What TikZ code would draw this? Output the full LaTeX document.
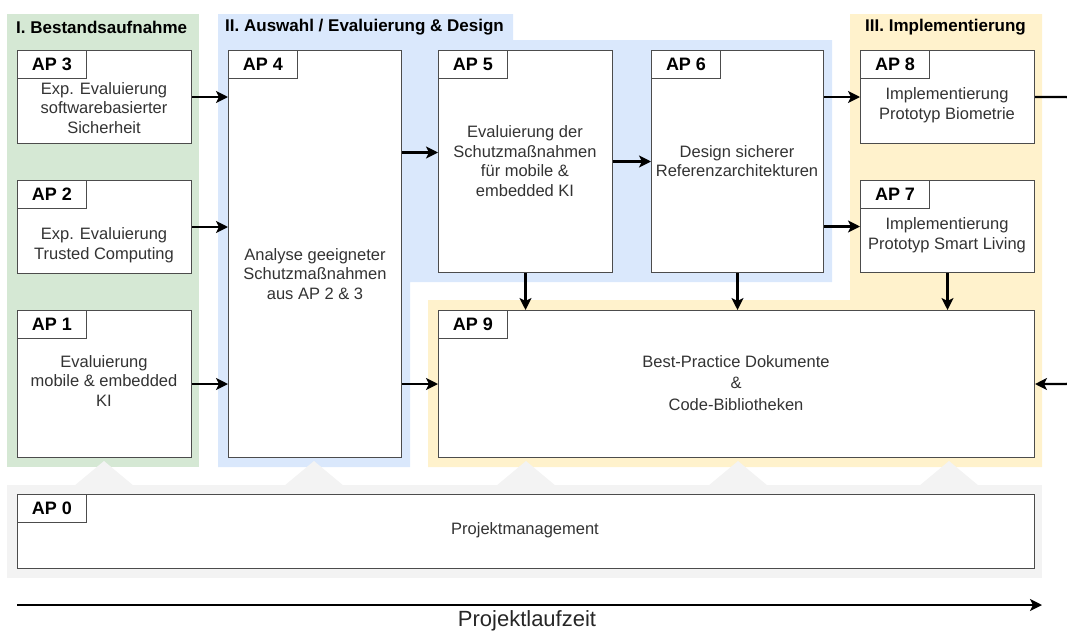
\documentclass[tikz,border=0pt]{standalone}
\usepackage{fontspec}
\setmainfont{Liberation Sans}
\usetikzlibrary{arrows.meta,positioning}
\definecolor{phasegreen}{HTML}{d5e8d4}
\definecolor{phaseblue}{HTML}{dae8fc}
\definecolor{phaseyellow}{HTML}{fff2cc}
\definecolor{mgmtgray}{HTML}{f3f3f3}

\tikzset{
  apbox/.style = {draw = black!70, fill = white, line width = 1pt, anchor = north west, inner sep = 0pt},
  aplabel/.style = {draw = black!70, fill = white, line width = 1pt, anchor = north west, minimum width = 69pt, minimum height = 28pt, inner sep = 0pt, font = \fontsize{18}{20}\selectfont\bfseries},
  aptext/.style = {align = center, text = black!80, font = \fontsize{16.5}{19.5}\selectfont},
  phasetitle/.style = {anchor = west, inner sep = 0pt, font = \fontsize{17}{20}\selectfont\bfseries},
  flow/.style = {-{Stealth[length = 12pt, width = 12pt, inset = 3pt]}, line width = 2.2pt},
}

\begin{document}
\begin{tikzpicture}[x = 1pt, y = -1pt]
        \clip (0, 0) rectangle (1067, 632);

        % Phases
        \fill [phasegreen] (7, 14) rectangle (199, 467);
        \fill [phaseblue] (218, 14) -- (513, 14) -- (513, 40) -- (832, 40) -- (832, 282) -- (410, 282) -- (410, 467) -- (218, 467) -- cycle;
        \fill [phaseyellow] (850, 14) -- (1042, 14) -- (1042, 467) -- (428, 467) -- (428, 300) -- (850, 300) -- cycle;
        \fill [mgmtgray] (7, 485) rectangle (1042, 578);
        \foreach \tx in {104, 314, 526, 738, 949}
            \fill [mgmtgray] (\tx - 30, 486) -- (\tx, 461) -- (\tx + 30, 486) -- cycle;

        \node [phasetitle] (titlea) at (16, 27) {I. Bestandsaufnahme};
        \node [phasetitle] (titleb) at (225, 27) {II. Auswahl / Evaluierung \& Design};
        \node [phasetitle] (titlec) at (865, 27) {III. Implementierung};

        % Boxes
        \node [apbox, minimum width = 174pt, minimum height = 93pt] (ap3) at (17, 50) {};
        \node [apbox, minimum width = 174pt, minimum height = 93pt] (ap2) at (17, 180) {};
        \node [apbox, minimum width = 174pt, minimum height = 147pt] (ap1) at (17, 310) {};
        \node [apbox, minimum width = 173pt, minimum height = 407pt] (ap4) at (228, 50) {};
        \node [apbox, minimum width = 174pt, minimum height = 222pt] (ap5) at (438, 50) {};
        \node [apbox, minimum width = 172pt, minimum height = 222pt] (ap6) at (651, 50) {};
        \node [apbox, minimum width = 174pt, minimum height = 93pt] (ap8) at (860, 50) {};
        \node [apbox, minimum width = 174pt, minimum height = 92pt] (ap7) at (860, 180) {};
        \node [apbox, minimum width = 596pt, minimum height = 147pt] (ap9) at (438, 310) {};
        \node [apbox, minimum width = 1017pt, minimum height = 74pt] (ap0) at (17, 494) {};

        % Labels
        \node [aplabel] (ap3label) at (ap3.north west) {AP 3};
        \node [aplabel] (ap2label) at (ap2.north west) {AP 2};
        \node [aplabel] (ap1label) at (ap1.north west) {AP 1};
        \node [aplabel] (ap4label) at (ap4.north west) {AP 4};
        \node [aplabel] (ap5label) at (ap5.north west) {AP 5};
        \node [aplabel] (ap6label) at (ap6.north west) {AP 6};
        \node [aplabel] (ap8label) at (ap8.north west) {AP 8};
        \node [aplabel] (ap7label) at (ap7.north west) {AP 7};
        \node [aplabel] (ap9label) at (ap9.north west) {AP 9};
        \node [aplabel] (ap0label) at (ap0.north west) {AP 0};

        % Texts
        \node [aptext] (ap3text) at (104, 108) {Exp. Evaluierung\\softwarebasierter\\Sicherheit};
        \node [aptext] (ap2text) at (104, 245) {Exp. Evaluierung\\Trusted Computing};
        \node [aptext] (ap1text) at (104, 381) {Evaluierung\\mobile \& embedded\\KI};
        \node [aptext] (ap4text) at (315, 274) {Analyse geeigneter\\Schutzmaßnahmen\\aus AP 2 \& 3};
        \node [aptext] (ap5text) at (525, 161) {Evaluierung der\\Schutzmaßnahmen\\für mobile \&\\embedded KI};
        \node [aptext] (ap6text) at (737, 161) {Design sicherer\\Referenzarchitekturen};
        \node [aptext] (ap8text) at (947, 105) {Implementierung\\Prototyp Biometrie};
        \node [aptext] (ap7text) at (947, 235) {Implementierung\\Prototyp Smart Living};
        \node [aptext, text depth = 0pt] (ap9text) at (736, 383) {Best-Practice Dokumente\\[2pt]\&\\[2pt]Code-Bibliotheken};
        \node [aptext] (ap0text) at (525, 530) {Projektmanagement};

        % Lines
        \draw [flow] (ap3.east) -- (ap3.east -| ap4.west);
        \draw [flow] (ap2.east) -- (ap2.east -| ap4.west);
        \draw [flow] (ap1.east) -- (ap1.east -| ap4.west);
        \draw [flow] ([yshift = 9pt]ap5.west -| ap4.east) -- ([yshift = 9pt]ap5.west);
        \draw [flow] (ap9.west -| ap4.east) -- (ap9.west);
        \draw [flow] (ap5.east) -- (ap6.west);
        \draw [flow] (ap8.west -| ap6.east) -- (ap8.west);
        \draw [flow] (ap7.west -| ap6.east) -- (ap7.west);
        \draw [flow] (ap5.south) -- (ap5.south |- ap9.north);
        \draw [flow] (ap6.south) -- (ap6.south |- ap9.north);
        \draw [flow] (ap7.south) -- (ap7.south |- ap9.north);
        \draw [flow, rounded corners = 9pt] (ap8.east) -- ++(40, 0) |- (ap9.east);

        % Timeline
        \coordinate (tstart) at (17, 605);
        \coordinate (tend) at (1042, 605);
        \draw [flow] (tstart) -- (tend);
        \node [font = \fontsize{22}{24}\selectfont, text = black!85] (tlabel) at (527, 621) {Projektlaufzeit};

    \end{tikzpicture}
\end{document}
